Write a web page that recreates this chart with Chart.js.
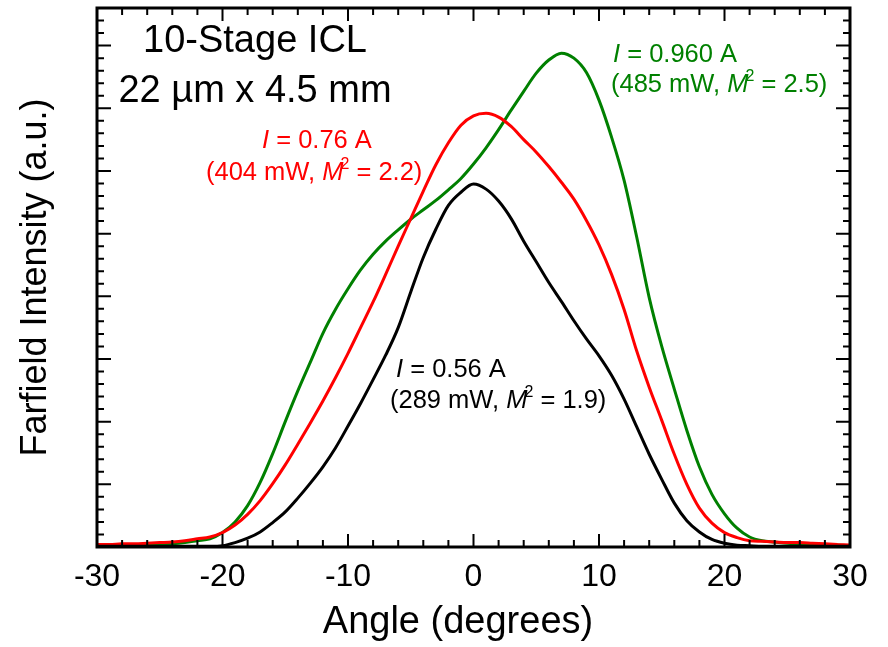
<!DOCTYPE html>
<html>
<head>
<meta charset="utf-8">
<script src="https://cdn.jsdelivr.net/npm/chart.js@4.4.1/dist/chart.umd.min.js"></script>
<style>
  html, body { margin: 0; padding: 0; background: #fff; }
  #chart { display: block; }
</style>
</head>
<body>
<canvas id="chart" width="888" height="647"></canvas>
<script>
const angles = [-30, -29, -28, -27, -26, -25, -24, -23, -22, -21,
  -20, -19, -18, -17, -16, -15, -14, -13, -12, -11,
  -10, -9, -8, -7, -6, -5, -4, -3, -2, -1,
  0, 1, 2, 3, 4, 5, 6, 7, 8, 9,
  10, 11, 12, 13, 14, 15, 16, 17, 18, 19,
  20, 21, 22, 23, 24, 25, 26, 27, 28, 29, 30]

// farfield intensity, arbitrary units (one major y tick = 1)
const current056 = [0.01, 0.01, 0.01, 0.01, 0.01, 0.01, 0.01, 0.01, 0.01, 0.01,
  0.02, 0.07, 0.14, 0.24, 0.39, 0.56, 0.78, 1.02, 1.28, 1.58,
  1.93, 2.29, 2.67, 3.06, 3.50, 4.07, 4.62, 5.07, 5.45, 5.66,
  5.79, 5.71, 5.52, 5.24, 4.88, 4.55, 4.22, 3.92, 3.61, 3.32,
  3.05, 2.74, 2.36, 1.92, 1.48, 1.08, 0.70, 0.42, 0.24, 0.12,
  0.06, 0.03, 0.02, 0.01, 0.01, 0.01, 0.01, 0.01, 0.01, 0.01, 0.01]

const current076 = [0.04, 0.04, 0.05, 0.05, 0.06, 0.07, 0.08, 0.10, 0.13, 0.16,
  0.23, 0.35, 0.52, 0.74, 1.01, 1.31, 1.64, 1.98, 2.33, 2.70,
  3.09, 3.50, 3.91, 4.35, 4.80, 5.24, 5.68, 6.10, 6.45, 6.73,
  6.88, 6.92, 6.86, 6.71, 6.50, 6.30, 6.07, 5.82, 5.55, 5.21,
  4.82, 4.35, 3.79, 3.13, 2.55, 2.02, 1.48, 1.00, 0.62, 0.38,
  0.23, 0.15, 0.10, 0.09, 0.08, 0.07, 0.07, 0.06, 0.05, 0.04, 0.03]

const current096 = [0.02, 0.02, 0.02, 0.03, 0.03, 0.04, 0.05, 0.07, 0.10, 0.13,
  0.23, 0.40, 0.66, 1.03, 1.49, 2.00, 2.49, 2.95, 3.41, 3.79,
  4.12, 4.42, 4.67, 4.88, 5.06, 5.23, 5.38, 5.53, 5.70, 5.88,
  6.11, 6.37, 6.66, 6.97, 7.27, 7.56, 7.77, 7.88, 7.80, 7.57,
  7.13, 6.54, 5.85, 4.95, 3.98, 3.20, 2.52, 1.86, 1.28, 0.84,
  0.53, 0.30, 0.16, 0.10, 0.08, 0.06, 0.05, 0.04, 0.03, 0.03, 0.02]

const xTickLabels = [-30, -20, -10, 0, 10, 20, 30]
const xTitle = "Angle (degrees)"
const yTitle = "Farfield Intensity (a.u.)"

const labelFont = "'Liberation Sans', Arial, Helvetica, sans-serif"

// annotation lines: parts are [text, style] where style is "", "i" (italic) or "sup"
const notes = [
  { color: "#000", size: 38, align: "center", x: 255, y: 52, parts: [["10-Stage ICL", ""]] },
  { color: "#000", size: 38, align: "center", x: 255, y: 102, parts: [["22 \u00b5m x 4.5 mm", ""]] },
  { color: "#ff0000", size: 25.5, align: "left", x: 262, y: 148, parts: [["I", "i"], [" = 0.76 A", ""]] },
  { color: "#ff0000", size: 25.5, align: "left", x: 206, y: 180, parts: [["(404 mW, ", ""], ["M", "i"], ["2", "sup"], [" = 2.2)", ""]] },
  { color: "#008000", size: 25.5, align: "left", x: 613, y: 62, parts: [["I", "i"], [" = 0.960 A", ""]] },
  { color: "#008000", size: 25.5, align: "left", x: 611, y: 92, parts: [["(485 mW, ", ""], ["M", "i"], ["2", "sup"], [" = 2.5)", ""]] },
  { color: "#000", size: 25.5, align: "left", x: 396, y: 377, parts: [["I", "i"], [" = 0.56 A", ""]] },
  { color: "#000", size: 25.5, align: "left", x: 390, y: 408, parts: [["(289 mW, ", ""], ["M", "i"], ["2", "sup"], [" = 1.9)", ""]] }
]

function toPoints(values) {
  return values.map((v, i) => ({ x: angles[i], y: v }))
}

function partFont(style, size) {
  if (style === "i") return `italic ${size}px ${labelFont}`
  if (style === "sup") return `${Math.round(size * 0.62)}px ${labelFont}`
  return `${size}px ${labelFont}`
}

function drawNote(ctx, note) {
  ctx.fillStyle = note.color
  ctx.textBaseline = "alphabetic"
  ctx.textAlign = "left"
  let total = 0
  note.parts.forEach(([t, s]) => {
    ctx.font = partFont(s, note.size)
    total += ctx.measureText(t).width - (s === "sup" ? 3 : 0)
  })
  let x = note.align === "center" ? note.x - total / 2 : note.x
  note.parts.forEach(([t, s]) => {
    ctx.font = partFont(s, note.size)
    if (s === "sup") {
      x -= 3
      ctx.fillText(t, x, note.y - note.size * 0.42)
    } else {
      ctx.fillText(t, x, note.y)
    }
    x += ctx.measureText(t).width
  })
}

const frameTicks = {
  id: "frameTicks",
  afterDatasetsDraw(chart) {
    const { ctx, chartArea: a, scales: { x, y } } = chart
    ctx.save()
    ctx.strokeStyle = "#000"
    ctx.lineWidth = 2
    ctx.beginPath()
    for (let v = -30; v <= 30; v += 2) {
      const px = x.getPixelForValue(v)
      const len = v % 10 === 0 ? 13 : 7
      ctx.moveTo(px, a.bottom)
      ctx.lineTo(px, a.bottom - len)
      ctx.moveTo(px, a.top)
      ctx.lineTo(px, a.top + len)
    }
    for (let k = 0; k <= 43; k++) {
      const py = y.getPixelForValue(k / 5)
      const len = k % 5 === 0 ? 14 : 7
      ctx.moveTo(a.left, py)
      ctx.lineTo(a.left + len, py)
      ctx.moveTo(a.right, py)
      ctx.lineTo(a.right - len, py)
    }
    ctx.stroke()
    ctx.lineWidth = 3
    ctx.strokeRect(a.left, a.top, a.right - a.left, a.bottom - a.top)

    // x axis title sits a little left of the plot centre in the original
    ctx.fillStyle = "#000"
    ctx.font = `38px ${labelFont}`
    ctx.textAlign = "center"
    ctx.textBaseline = "alphabetic"
    ctx.fillText(xTitle, 458, 633)

    notes.forEach(n => drawNote(ctx, n))
    ctx.restore()
  }
}

const chartCanvas = document.getElementById("chart")

const datasets = [
  { label: "I = 0.56 A", data: toPoints(current056), borderColor: "#000000" },
  { label: "I = 0.76 A", data: toPoints(current076), borderColor: "#ff0000" },
  { label: "I = 0.960 A", data: toPoints(current096), borderColor: "#008000" }
].map(d => ({ ...d, borderWidth: 3, pointRadius: 0, fill: false, cubicInterpolationMode: "monotone" }))

const config = {
  type: "line",
  data: { datasets },
  options: {
    responsive: false,
    animation: false,
    devicePixelRatio: 1,
    layout: { padding: { top: 8, right: 38, left: 0, bottom: 0 } },
    plugins: { legend: { display: false }, tooltip: { enabled: false } },
    scales: {
      x: {
        type: "linear",
        min: -30,
        max: 30,
        afterBuildTicks: scale => { scale.ticks = xTickLabels.map(v => ({ value: v })) },
        afterFit: scale => { scale.height = 100 },
        grid: { display: false, drawTicks: false },
        border: { display: false },
        ticks: { color: "#000", font: { family: labelFont, size: 32 }, padding: 11, maxRotation: 0 },
        title: { display: false }
      },
      y: {
        type: "linear",
        min: 0,
        max: 8.6,
        afterFit: scale => { scale.width = 97 },
        grid: { display: false, drawTicks: false },
        border: { display: false },
        ticks: { display: false },
        title: { display: true, text: yTitle, color: "#000", font: { family: labelFont, size: 36 }, padding: { top: 14, bottom: 0 } }
      }
    }
  },
  plugins: [frameTicks]
}

new Chart(chartCanvas, config)
</script>
</body>
</html>
